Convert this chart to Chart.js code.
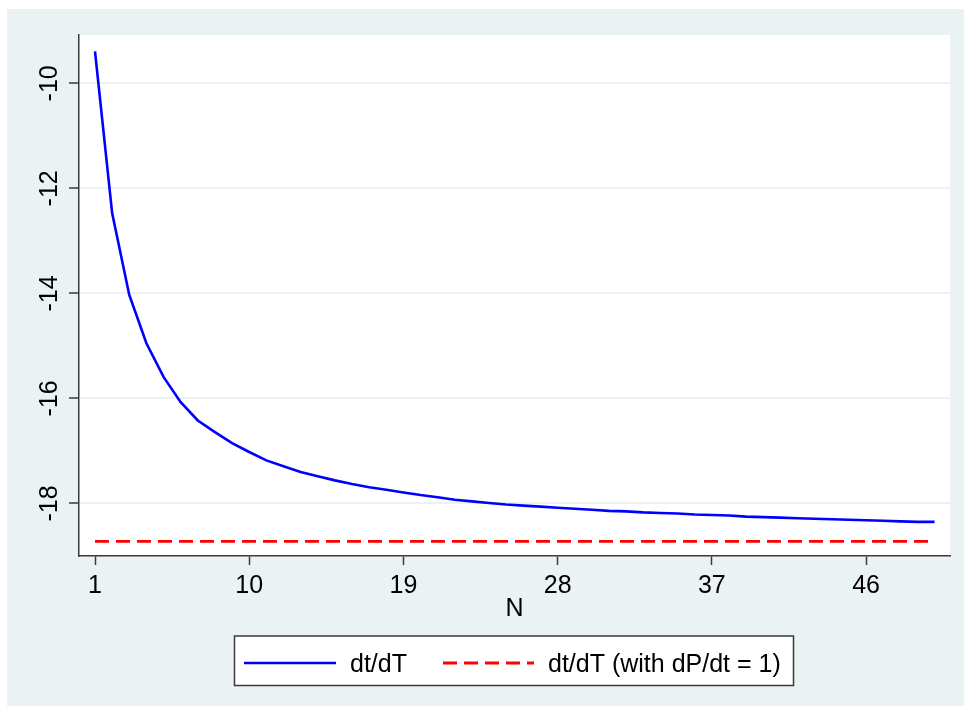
<!DOCTYPE html>
<html>
<head>
<meta charset="utf-8">
<title>dt/dT by N</title>
<script src="https://cdn.jsdelivr.net/npm/chart.js@4.4.1/dist/chart.umd.min.js"></script>
<style>
    html, body { margin: 0; padding: 0; background: #ffffff; }
    canvas { display: block; }
</style>
</head>
<body>
<canvas id="profile" width="964" height="706"></canvas>
<script>
// Values.
const nValues = [
    1, 2, 3, 4, 5, 6, 7, 8, 9, 10,
    11, 12, 13, 14, 15, 16, 17, 18, 19, 20,
    21, 22, 23, 24, 25, 26, 27, 28, 29, 30,
    31, 32, 33, 34, 35, 36, 37, 38, 39, 40,
    41, 42, 43, 44, 45, 46, 47, 48, 49, 50
];

const dtdT = [
    -9.39, -12.47, -14.03, -14.95, -15.59, -16.07, -16.42, -16.64, -16.85, -17.02,
    -17.18, -17.29, -17.40, -17.48, -17.56, -17.63, -17.69, -17.74, -17.79, -17.84,
    -17.88, -17.93, -17.96, -17.99, -18.02, -18.04, -18.06, -18.08, -18.10, -18.12,
    -18.14, -18.15, -18.17, -18.18, -18.19, -18.21, -18.22, -18.23, -18.25, -18.26,
    -18.27, -18.28, -18.29, -18.30, -18.31, -18.32, -18.33, -18.34, -18.35, -18.35
];

const dtdTUnitPrice = [
    -18.72, -18.72, -18.72, -18.72, -18.72, -18.72, -18.72, -18.72, -18.72, -18.72,
    -18.72, -18.72, -18.72, -18.72, -18.72, -18.72, -18.72, -18.72, -18.72, -18.72,
    -18.72, -18.72, -18.72, -18.72, -18.72, -18.72, -18.72, -18.72, -18.72, -18.72,
    -18.72, -18.72, -18.72, -18.72, -18.72, -18.72, -18.72, -18.72, -18.72, -18.72,
    -18.72, -18.72, -18.72, -18.72, -18.72, -18.72, -18.72, -18.72, -18.72, -18.72
];

const xTicks = [1, 10, 19, 28, 37, 46];
const yTicks = [-18, -16, -14, -12, -10];

const seriesLabels = ['dt/dT', 'dt/dT (with dP/dt = 1)'];

const FONT = 'Arial, "Liberation Sans", sans-serif';
const FONT_SIZE = 25;
const BG = '#eaf2f3';
const AXIS = '#3a3a3a';

/**
 * Light graph region with the white plot region on top.
 */
const backgroundPlugin = {
    id: 'stataBackground',
    beforeDraw(chart) {
        const { ctx, chartArea } = chart;
        ctx.save();
        ctx.fillStyle = '#ffffff';
        ctx.fillRect(0, 0, chart.width, chart.height);
        ctx.fillStyle = BG;
        ctx.fillRect(7, 9, chart.width - 7, chart.height - 9);
        ctx.fillStyle = '#ffffff';
        ctx.fillRect(chartArea.left, chartArea.top,
            chartArea.right - chartArea.left, chartArea.bottom - chartArea.top);
        ctx.restore();
    }
};

/**
 * Y tick labels are rotated (read bottom to top), as Stata draws them.
 */
const yLabelPlugin = {
    id: 'rotatedYLabels',
    afterDraw(chart) {
        const { ctx } = chart;
        const y = chart.scales.y;
        ctx.save();
        ctx.fillStyle = '#000000';
        ctx.font = FONT_SIZE + 'px ' + FONT;
        ctx.textAlign = 'center';
        ctx.textBaseline = 'alphabetic';
        yTicks.forEach((v) => {
            ctx.save();
            ctx.translate(57, y.getPixelForValue(v));
            ctx.rotate(-Math.PI / 2);
            ctx.fillText(String(v), 0, 0);
            ctx.restore();
        });
        ctx.restore();
    }
};

/**
 * Boxed legend below the plot, one row.
 */
const legendPlugin = {
    id: 'boxedLegend',
    afterDraw(chart) {
        const { ctx } = chart;
        const sets = chart.data.datasets;
        ctx.save();
        ctx.fillStyle = '#ffffff';
        ctx.fillRect(234.5, 636, 559, 49.5);
        ctx.strokeStyle = AXIS;
        ctx.lineWidth = 1.5;
        ctx.strokeRect(234.5, 636, 559, 49.5);

        const rows = [
            { x0: 244, x1: 336, tx: 350 },
            { x0: 443, x1: 534, tx: 548 },
        ];
        rows.forEach((r, i) => {
            const ds = sets[i];
            ctx.strokeStyle = ds.borderColor;
            ctx.lineWidth = ds.borderWidth;
            ctx.setLineDash(ds.borderDash || []);
            ctx.beginPath();
            ctx.moveTo(r.x0, 663);
            ctx.lineTo(r.x1, 663);
            ctx.stroke();
            ctx.setLineDash([]);
            ctx.fillStyle = '#000000';
            ctx.font = FONT_SIZE + 'px ' + FONT;
            ctx.textBaseline = 'alphabetic';
            ctx.fillText(ds.label, r.tx, 672);
        });
        ctx.restore();
    }
};

const ctx = document.getElementById('profile').getContext('2d');

new Chart(ctx, {
    type: 'line',
    data: {
        datasets: [
            {
                label: seriesLabels[0],
                data: nValues.map((n, i) => ({ x: n, y: dtdT[i] })),
                borderColor: '#0000ff',
                borderWidth: 2.6,
                pointRadius: 0,
                tension: 0,
            },
            {
                label: seriesLabels[1],
                data: nValues.map((n, i) => ({ x: n, y: dtdTUnitPrice[i] })),
                borderColor: '#ff0000',
                borderWidth: 2.8,
                borderDash: [14, 7],
                pointRadius: 0,
                tension: 0,
            }
        ]
    },
    options: {
        responsive: false,
        animation: false,
        devicePixelRatio: 1,
        layout: {
            padding: { left: 0, right: 14, top: 35, bottom: 82 }
        },
        plugins: {
            legend: { display: false },
            tooltip: { enabled: false },
        },
        scales: {
            x: {
                type: 'linear',
                min: 0.066,
                max: 50.9,
                afterBuildTicks: (scale) => {
                    scale.ticks = xTicks.map(v => ({ value: v }));
                },
                afterFit: (scale) => { scale.height = 68; },
                grid: {
                    drawOnChartArea: false,
                    drawTicks: true,
                    tickLength: 9,
                    tickColor: AXIS,
                    tickWidth: 1.5,
                },
                border: { display: true, color: AXIS, width: 1.5 },
                ticks: {
                    color: '#000000',
                    font: { family: FONT, size: FONT_SIZE },
                    padding: 6,
                    maxRotation: 0,
                    minRotation: 0,
                },
                title: {
                    display: true,
                    text: 'N',
                    color: '#000000',
                    font: { family: FONT, size: FONT_SIZE },
                    padding: { top: 0, bottom: 0 },
                },
            },
            y: {
                type: 'linear',
                min: -19.0,
                max: -9.08,
                afterBuildTicks: (scale) => {
                    scale.ticks = yTicks.map(v => ({ value: v }));
                },
                afterFit: (scale) => { scale.width = 79; },
                grid: {
                    color: BG,
                    lineWidth: 2,
                    drawTicks: true,
                    tickLength: 10,
                    tickColor: AXIS,
                    tickWidth: 1.5,
                },
                border: { display: true, color: AXIS, width: 1.5 },
                ticks: { display: false },
            }
        }
    },
    plugins: [backgroundPlugin, yLabelPlugin, legendPlugin]
});
</script>
</body>
</html>
